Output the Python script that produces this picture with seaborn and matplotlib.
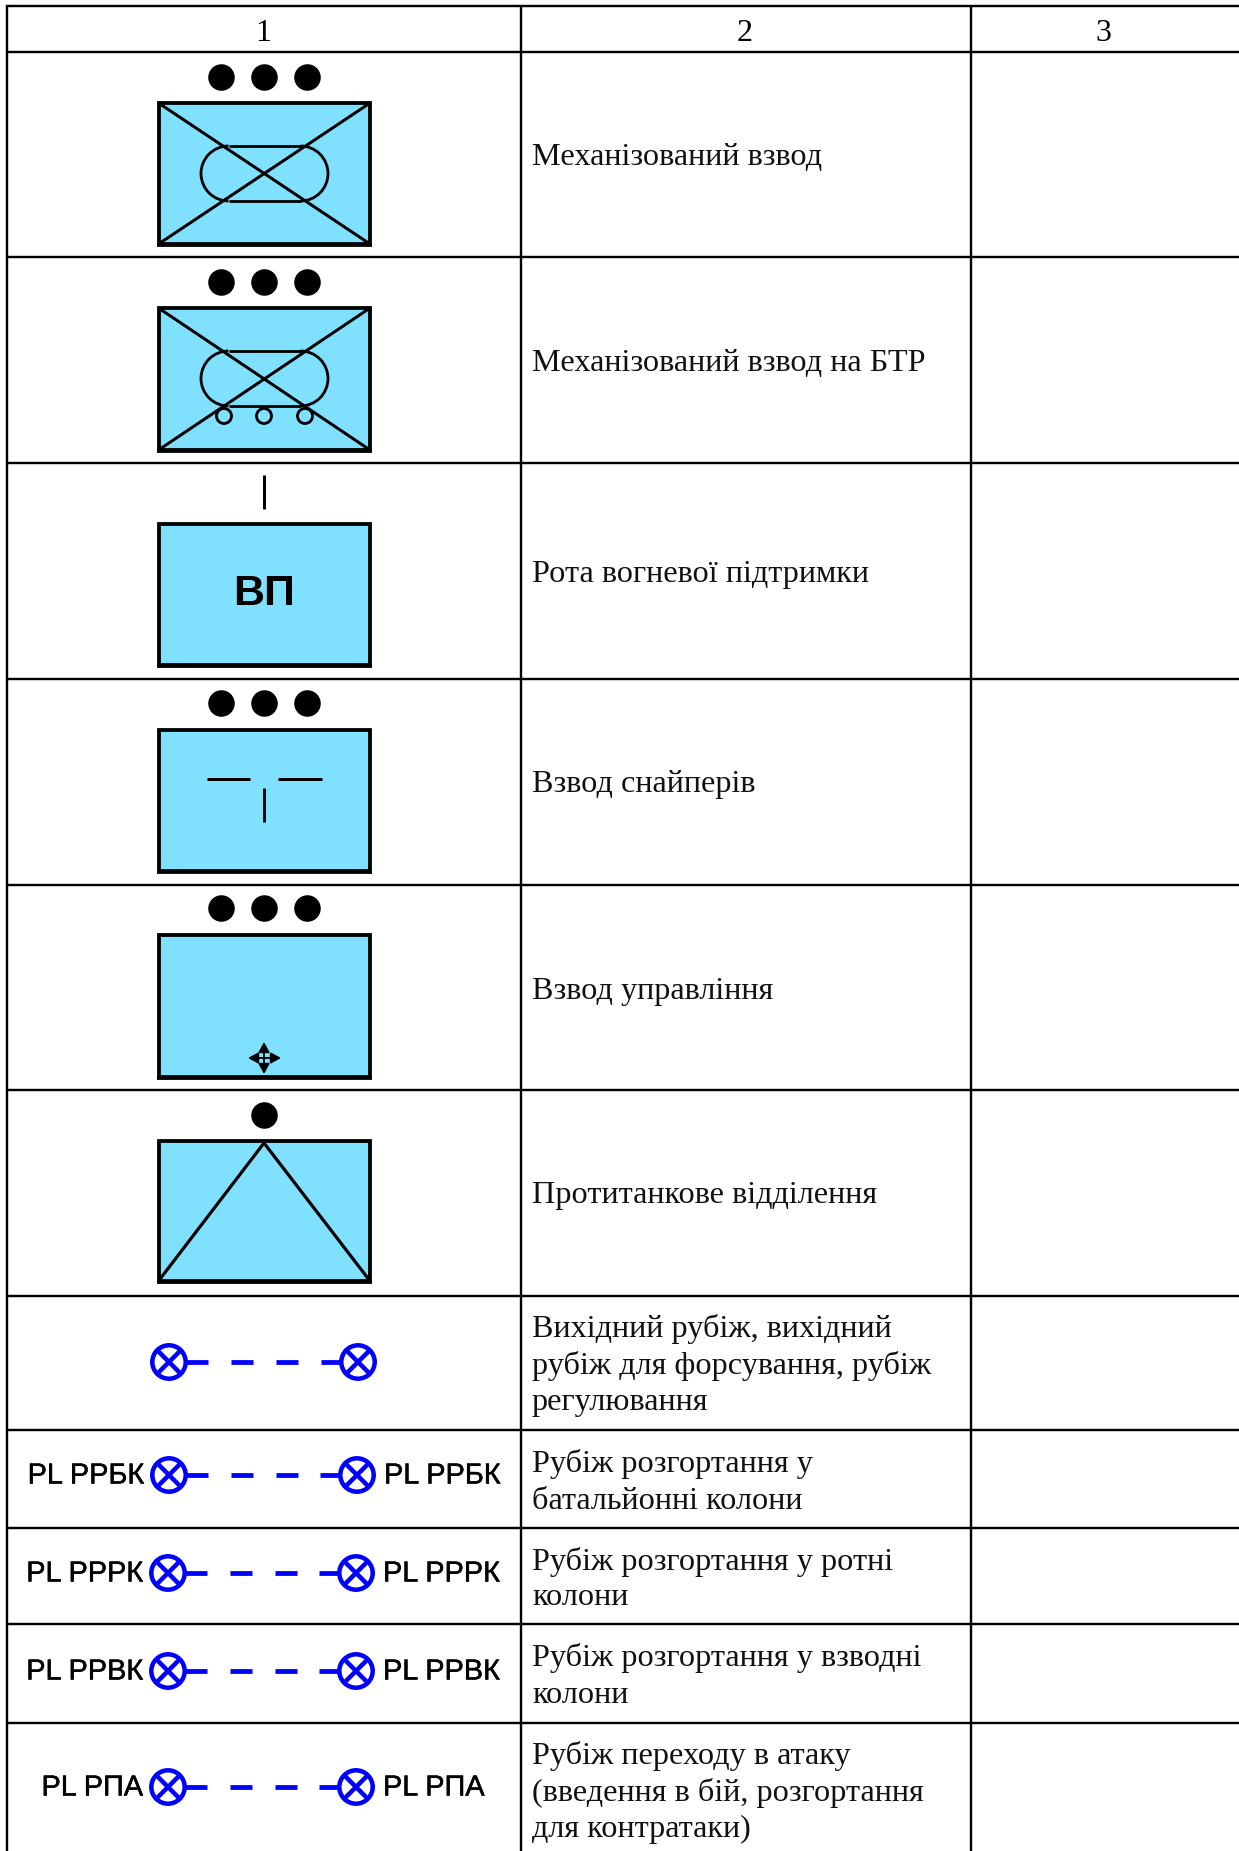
import matplotlib
matplotlib.use("Agg")
import matplotlib.pyplot as plt
from matplotlib.patches import Rectangle, Circle, Arc
import matplotlib.patheffects as pe
import pandas as pd
import seaborn as sns

# ---------- content ----------
header_labels = ["1", "2", "3"]
descriptions = [
    ["Механізований взвод"],
    ["Механізований взвод на БТР"],
    ["Рота вогневої підтримки"],
    ["Взвод снайперів"],
    ["Взвод управління"],
    ["Протитанкове відділення"],
    ["Вихідний рубіж, вихідний", "рубіж для форсування, рубіж", "регулювання"],
    ["Рубіж розгортання у", "батальйонні колони"],
    ["Рубіж розгортання у ротні", "колони"],
    ["Рубіж розгортання у взводні", "колони"],
    ["Рубіж переходу в атаку", "(введення в бій, розгортання", "для контратаки)"],
]
echelon_dots = [3, 3, 0, 3, 3, 1]
unit_kinds = ["mech", "apc", "fire", "sniper", "command", "antitank"]
phase_labels = ["", "PL РРБК", "PL РРРК", "PL РРВК", "PL РПА"]

# ---------- layout (pixels of the page) ----------
W, H = 1239, 1851
col_lines = [7, 521, 971]
row_lines = [6, 52, 257.5, 463, 679, 885, 1090, 1296, 1430, 1528, 1624, 1723]
text_baselines = [[165], [371], [582], [792], [999], [1203],
                  [1337, 1374, 1410], [1472, 1509], [1570, 1605],
                  [1666, 1703], [1764, 1801, 1837]]
rect_tops = [103, 308, 524, 730, 935, 1141]
rect_bottoms = [244, 450, 665, 871, 1077, 1281]
dot_y = [77, 282, None, 703, 908, 1115]
phase_y = [1362, 1475, 1573, 1671, 1787]
phase_left = [169, 169, 168, 168, 168]
phase_right = [358, 357, 356, 356, 356]
CX, RX0, RX1 = 264, 158.5, 370
FILL, BLUE = "#80E0FF", "#0000FF"
SERIF, SANS = "Liberation Serif", "Liberation Sans"
PT = 0.72

sns.set_theme(style="white")
fig = plt.figure(figsize=(W / 100, H / 100), dpi=100, facecolor="white")
ax = fig.add_axes([0, 0, 1, 1])
ax.set_xlim(0, W)
ax.set_ylim(H, 0)
ax.axis("off")


def line(xs, ys, px=2.5, color="black", z=3, cap="butt"):
    ax.plot(xs, ys, color=color, lw=px * PT, zorder=z, solid_capstyle=cap)


# grid
for x in col_lines:
    line([x, x], [row_lines[0] - 1, H], 2.4)
for y in row_lines:
    line([col_lines[0] - 1, W], [y, y], 2.4)

# header and description text
for label, x in zip(header_labels, [263, 745, 1103]):
    ax.text(x, 41, label, family=SERIF, fontsize=23, ha="center", va="baseline", color="black")
for lines, bases in zip(descriptions, text_baselines):
    for s, b in zip(lines, bases):
        ax.text(532, b, s, family=SERIF, fontsize=23.2, ha="left", va="baseline", color="#111111")

# echelon dots through seaborn
dots = []
for n, y in zip(echelon_dots, dot_y):
    offs = {3: [-43, 0, 43], 1: [0], 0: []}[n]
    dots += [{"x": CX + o, "y": y} for o in offs]
sns.scatterplot(data=pd.DataFrame(dots), x="x", y="y", ax=ax, s=365, color="black",
                linewidth=0, legend=False, zorder=4)
ax.set_xlim(0, W)
ax.set_ylim(H, 0)
ax.axis("off")


def pill(top, bottom):
    h = bottom - top
    r = h / 2
    xl, xr = 201 + r, 328 - r
    lw = 2.8 * PT
    line([xl, xr], [top, top], 2.8)
    line([xl, xr], [bottom, bottom], 2.8)
    ax.add_patch(Arc((xl, top + r), h, h, theta1=90, theta2=270, color="black", lw=lw, zorder=3))
    ax.add_patch(Arc((xr, top + r), h, h, theta1=-90, theta2=90, color="black", lw=lw, zorder=3))


for kind, t, b in zip(unit_kinds, rect_tops, rect_bottoms):
    ax.add_patch(Rectangle((RX0, t), RX1 - RX0, b - t, fc=FILL, ec="black", lw=3.8 * PT, zorder=2,
                           joinstyle="miter"))
    line([RX0 - 1.9, RX1 + 1.9], [b + 0.7, b + 0.7], 3.8, z=2.5)
    if kind in ("mech", "apc"):
        line([RX0, RX1], [t, b], 3)
        line([RX0, RX1], [b, t], 3)
    if kind == "mech":
        pill(t + 43, t + 98)
    if kind == "apc":
        pill(t + 43, t + 98)
        for wx in [224, 264, 305]:
            ax.add_patch(Circle((wx, t + 108), 7.5, fc=FILL, ec="black", lw=2.8 * PT, zorder=3.5))
    if kind == "fire":
        ax.text(CX, 605, "ВП", family=SANS, weight="bold", fontsize=31, ha="center", va="baseline", color="black")
    if kind == "sniper":
        line([207, 250], [779, 779], 3)
        line([278, 322], [779, 779], 3)
        line([CX, CX], [788, 822], 3)
    if kind == "command":
        for a, b2 in [((248, 1058), (281, 1058)), ((CX, 1042), (CX, 1074))]:
            ax.annotate("", xy=a, xytext=b2, zorder=4,
                        arrowprops=dict(arrowstyle="<|-|>,head_length=0.55,head_width=0.3", color="black",
                                        lw=1.3, mutation_scale=11, shrinkA=0, shrinkB=0))
    if kind == "antitank":
        line([RX0, CX, RX1], [b, t + 2, b], 3.2)

line([CX, CX], [475, 509], 3)  # company bar

# phase lines
for label, y, xl, xr in zip(phase_labels, phase_y, phase_left, phase_right):
    r = 16.7
    for c in (xl, xr):
        ax.add_patch(Circle((c, y), r, fc="white", ec=BLUE, lw=4.5 * PT, zorder=3))
        k = r * 0.72
        line([c - k, c + k], [y - k, y + k], 4.5, BLUE)
        line([c - k, c + k], [y + k, y - k], 4.5, BLUE)
    segs = [(xl + r, xl + 39), (xl + 62, xl + 84), (xl + 107, xl + 129), (xr - 37, xr - r)]
    for s0, s1 in segs:
        line([s0, s1], [y, y], 4.8, BLUE)
    if label:
        for x, ha in [(xl - 25, "right"), (xr + 27, "left")]:
            ax.text(x, y + 8.5, label, family=SANS, fontsize=20.8, ha=ha, va="baseline", color="black",
                    path_effects=[pe.withStroke(linewidth=0.35, foreground="black")])

fig.savefig("out.png", dpi=100, facecolor="white")
